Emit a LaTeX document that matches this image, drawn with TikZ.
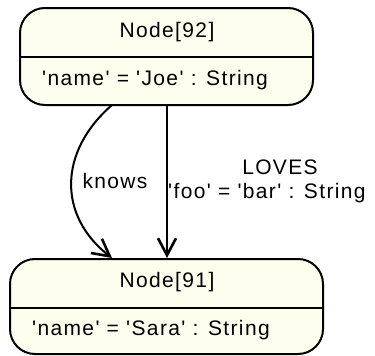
\documentclass[tikz,border=0pt]{standalone}
\usepackage{fontspec}
\newfontfamily\lblfont{Liberation Sans}[LetterSpace=6.5]
\usetikzlibrary{arrows.meta}
\definecolor{boxfill}{RGB}{254,254,238}
\tikzset{
  txt/.style={inner sep=0pt, font=\lblfont\fontsize{21}{25}\selectfont},
  nodebox/.style={draw=black, fill=boxfill, line width=2pt, rounded corners=25pt},
  divider/.style={draw=black, line width=2pt},
  rel/.style={draw=black, line width=2pt, -{Straight Barb[length=17pt,width=18pt,line width=2.6pt]}}
}
\begin{document}
\begin{tikzpicture}[x=1pt,y=-1pt]
\useasboundingbox (0,0) rectangle (375,356);
% top node
\path[nodebox] (20,8) rectangle (313,105);
\coordinate (dl1) at (20,57);
\coordinate (dr1) at (313,57);
\draw[divider] (dl1) -- (dr1);
\node[txt] (n92) at (167,32) {Node[92]};
\node[txt, anchor=west] (joe) at (42,80) {'name' = 'Joe' : String};
% bottom node
\path[nodebox] (10,259) rectangle (323,354);
\coordinate (dl2) at (10,308);
\coordinate (dr2) at (323,308);
\draw[divider] (dl2) -- (dr2);
\node[txt] (n91) at (167,282) {Node[91]};
\node[txt, anchor=west] (sara) at (32,330) {'name' = 'Sara' : String};
% connectors
\coordinate (k1) at (112,105);
\coordinate (k2) at (112,258);
\coordinate (l1) at (167,105);
\coordinate (l2) at (167,258);
\draw[rel] (k1) .. controls (58,152) and (58,216) .. (k2);
\draw[rel] (l1) -- (l2);
\node[txt] (knows) at (115,181) {knows};
\node[txt] (loves) at (280,167) {LOVES};
\node[txt, anchor=west] (foo) at (168,193) {'foo' = 'bar' : String};
\end{tikzpicture}
\end{document}
